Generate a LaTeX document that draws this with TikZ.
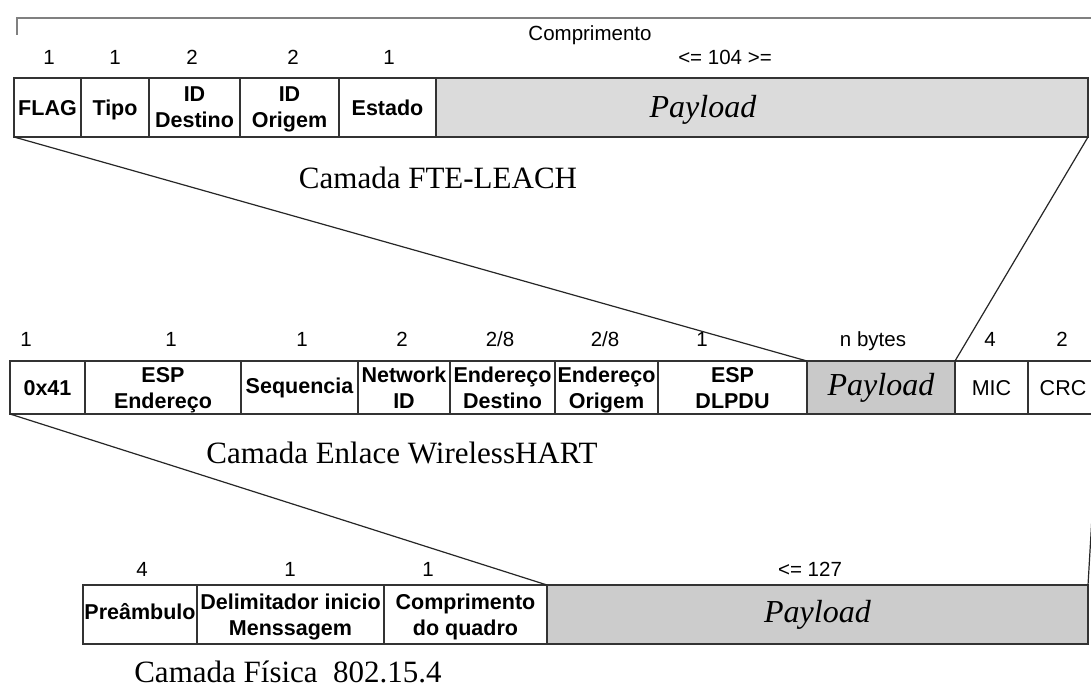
\documentclass[tikz,border=0pt]{standalone}
\usepackage{fontspec}
\setmainfont{Liberation Serif}
\setsansfont{Liberation Sans}
\begin{document}
\begin{tikzpicture}[x=1pt,y=-1pt]
\tikzset{
 cell/.style={draw=black!80, line width=1.4pt, fill=white, anchor=north west, inner sep=0pt, outer sep=0pt, align=center, text=black},
 fld/.style={cell, text depth=0pt, font=\sffamily\bfseries\fontsize{21.5}{26}\selectfont},
 fldr/.style={cell, text depth=0pt, font=\sffamily\fontsize{21.5}{26}\selectfont},
 paycell/.style={cell, font=\rmfamily\itshape\fontsize{32}{36}\selectfont},
 paytxt/.style={font=\rmfamily\itshape\fontsize{32}{36}\selectfont, inner sep=0pt},
 num/.style={font=\sffamily\fontsize{20.5}{24}\selectfont, inner sep=0pt, anchor=base},
 captxt/.style={font=\rmfamily\fontsize{31}{36}\selectfont, inner sep=0pt, anchor=base},
 conn/.style={draw=black!85, line width=1.2pt},
 bracket/.style={draw=black!50, line width=1.6pt},
}
\useasboundingbox (0,0) rectangle (1091,687);
\clip (0,0) rectangle (1091,687);
\fill[white] (0,0) rectangle (1091,687);

% ---- top bracket ----
\coordinate (brA) at (17,35);
\coordinate (brB) at (17,18);
\coordinate (brC) at (1095,18);
\draw[bracket] (brA) -- (brB) -- (brC);
\node[num] (comp) at (590,41) {Comprimento};

% ---- top row: FTE-LEACH ----
\node[num] (t1) at (49,65) {1};
\node[num] (t2) at (115,65) {1};
\node[num] (t3) at (192,65) {2};
\node[num] (t4) at (293,65) {2};
\node[num] (t5) at (389,65) {1};
\node[num] (t6) at (725,65) {<= 104 >=};

\node[fld, minimum width=67pt, minimum height=59pt] (flag) at (14,78) {FLAG};
\node[fld, minimum width=68pt, minimum height=59pt] (tipo) at (81,78) {Tipo};
\node[fld, minimum width=91pt, minimum height=59pt] (iddest) at (149,78) {ID\\Destino};
\node[fld, minimum width=99pt, minimum height=59pt] (idorig) at (240,78) {ID\\Origem};
\node[fld, minimum width=97pt, minimum height=59pt] (estado) at (339,78) {Estado};
\node[paycell, fill=black!14, minimum width=652pt, minimum height=59pt] (ptop) at (436,78) {};
\node[paytxt] (ptoptxt) at (703,110) {Payload};

\node[captxt] (cap1) at (438,189) {Camada FTE-LEACH};

% ---- middle row: WirelessHART ----
\node[num] (n1) at (26,346) {1};
\node[num] (n2) at (171,346) {1};
\node[num] (n3) at (302,346) {1};
\node[num] (n4) at (402,346) {2};
\node[num] (n5) at (500,346) {2/8};
\node[num] (n6) at (605,346) {2/8};
\node[num] (n7) at (702,346) {1};
\node[num] (n8) at (873,346) {n bytes};
\node[num] (n9) at (990,346) {4};
\node[num] (n10) at (1062,346) {2};

\node[fld, minimum width=75pt, minimum height=53pt] (m1) at (10,361) {0x41};
\node[fld, minimum width=156pt, minimum height=53pt] (m2) at (85,361) {ESP\\Endereço};
\node[fld, minimum width=117pt, minimum height=53pt] (m3) at (241,361) {\raisebox{3pt}{Sequencia}};
\node[fld, minimum width=92pt, minimum height=53pt] (m4) at (358,361) {Network\\ID};
\node[fld, minimum width=105pt, minimum height=53pt] (m5) at (450,361) {Endereço\\Destino};
\node[fld, minimum width=103pt, minimum height=53pt] (m6) at (555,361) {Endereço\\Origem};
\node[fld, minimum width=149pt, minimum height=53pt] (m7) at (658,361) {ESP\\DLPDU};
\node[paycell, fill=black!21, minimum width=148pt, minimum height=53pt] (mpay) at (807,361) {Payload};
\node[fldr, minimum width=73pt, minimum height=53pt] (mic) at (955,361) {MIC};
\node[fldr, minimum width=70pt, minimum height=53pt] (crc) at (1028,361) {CRC};

\node[captxt] (cap2) at (402,463) {Camada Enlace WirelessHART};

% ---- bottom row: physical ----
\node[num] (b1n) at (142,576) {4};
\node[num] (b2n) at (290,576) {1};
\node[num] (b3n) at (428,576) {1};
\node[num] (b4n) at (810,576) {<= 127};

\node[fld, minimum width=114pt, minimum height=59pt] (b1) at (83,585) {\raisebox{6pt}{Preâmbulo}};
\node[fld, minimum width=187pt, minimum height=59pt] (b2) at (197,585) {Delimitador inicio\\Menssagem};
\node[fld, minimum width=163pt, minimum height=59pt] (b3) at (384,585) {Comprimento\\do quadro};
\node[paycell, fill=black!20, minimum width=541pt, minimum height=59pt] (bpay) at (547,585) {Payload};

\node[captxt] (cap3) at (288,682) {Camada Física\ \ 802.15.4};

% ---- connectors ----
\draw[conn] (flag.south west) -- (mpay.north west);
\draw[conn] (ptop.south east) -- (mpay.north east);
\draw[conn] (m1.south west) -- (bpay.north west);
\draw[conn] (crc.south east) -- (bpay.north east);
\end{tikzpicture}
\end{document}
